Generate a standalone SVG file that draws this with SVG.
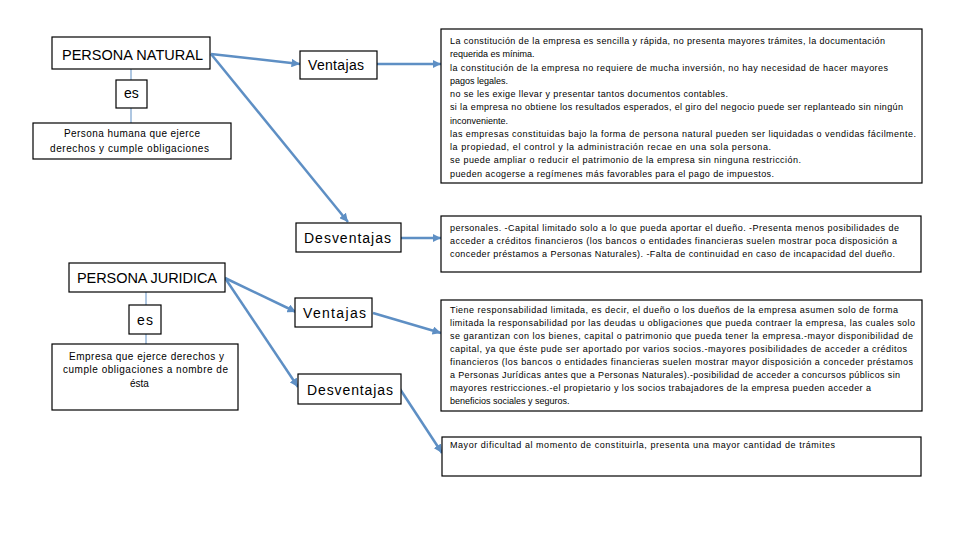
<svg xmlns="http://www.w3.org/2000/svg" width="960" height="540" viewBox="0 0 960 540">
<style>
.box{fill:#fff;stroke:#000;stroke-width:1.2}
.t{font-family:"Liberation Sans",Arial,sans-serif;fill:#000}
.big{font-size:14.5px}
.mid{font-size:14px}
.sm{font-size:10px}
.xs{font-size:9px}
.c{stroke:#5e8fc4;stroke-width:2.5;fill:none}
.v{stroke:#5e8fc4;stroke-width:1;fill:none}
</style>
<defs>
<marker id="arr" viewBox="0 0 10 10" refX="10" refY="5" markerWidth="3.4" markerHeight="3.4" orient="auto" markerUnits="strokeWidth">
<path d="M0,0 L10,5 L0,10 z" fill="#5e8fc4"/>
</marker>
</defs>
<rect width="960" height="540" fill="#fff"/>

<g id="connectors">
<line class="v" x1="131" y1="69" x2="131" y2="80"/>
<line class="v" x1="131" y1="108" x2="131" y2="123"/>
<line class="v" x1="146" y1="292" x2="146" y2="305"/>
<line class="v" x1="146" y1="334" x2="146" y2="344"/>
<line class="c" x1="211" y1="54" x2="300" y2="64" marker-end="url(#arr)"/>
<line class="c" x1="211" y1="54" x2="348" y2="222" marker-end="url(#arr)"/>
<line class="c" x1="377" y1="64" x2="441" y2="64" marker-end="url(#arr)"/>
<line class="c" x1="401" y1="238" x2="441" y2="238" marker-end="url(#arr)"/>
<line class="c" x1="225" y1="278" x2="296" y2="312" marker-end="url(#arr)"/>
<line class="c" x1="225" y1="278" x2="298" y2="387" marker-end="url(#arr)"/>
<line class="c" x1="373" y1="313" x2="441" y2="333" marker-end="url(#arr)"/>
<line class="c" x1="400" y1="389" x2="442" y2="453" marker-end="url(#arr)"/>
</g>

<g id="persona-natural">
<rect class="box" x="52" y="37" width="158" height="32"/>
<text class="t big" x="62" y="60" textLength="141" lengthAdjust="spacing">PERSONA NATURAL</text>
</g>
<g id="es-natural">
<rect class="box" x="116" y="80" width="31" height="28"/>
<text class="t mid" x="124" y="98">es</text>
</g>
<g id="def-natural">
<rect class="box" x="33" y="123" width="198" height="36"/>
<text class="t sm" x="64" y="137" textLength="136" lengthAdjust="spacing">Persona humana que ejerce</text>
<text class="t sm" x="50" y="152" textLength="159" lengthAdjust="spacing">derechos y cumple obligaciones</text>
</g>
<g id="ventajas-natural">
<rect class="box" x="300" y="51" width="77" height="28"/>
<text class="t mid" x="308" y="70" textLength="56" lengthAdjust="spacing">Ventajas</text>
</g>
<g id="desventajas-natural">
<rect class="box" x="296" y="223" width="105" height="29"/>
<text class="t mid" x="304" y="243" textLength="87" lengthAdjust="spacing">Desventajas</text>
</g>

<g id="persona-juridica">
<rect class="box" x="69" y="263" width="156" height="29"/>
<text class="t big" x="77" y="283" textLength="140" lengthAdjust="spacing">PERSONA JURIDICA</text>
</g>
<g id="es-juridica">
<rect class="box" x="129" y="305" width="32" height="29"/>
<text class="t mid" x="137" y="325" textLength="16" lengthAdjust="spacing">es</text>
</g>
<g id="def-juridica">
<rect class="box" x="52" y="344" width="186" height="66"/>
<text class="t sm" x="69" y="360" textLength="155" lengthAdjust="spacing">Empresa que ejerce derechos y</text>
<text class="t sm" x="63" y="373" textLength="165" lengthAdjust="spacing">cumple obligaciones a nombre de</text>
<text class="t sm" x="130" y="387">ésta</text>
</g>
<g id="ventajas-juridica">
<rect class="box" x="295" y="298" width="77" height="29"/>
<text class="t mid" x="303" y="318" textLength="63" lengthAdjust="spacing">Ventajas</text>
</g>
<g id="desventajas-juridica">
<rect class="box" x="298" y="374" width="103" height="30"/>
<text class="t mid" x="307" y="395" textLength="86" lengthAdjust="spacing">Desventajas</text>
</g>

<g id="ventajas-natural-texto">
<rect class="box" x="441" y="29" width="481" height="154"/>
<text class="t xs" x="450" y="44" textLength="435" lengthAdjust="spacing">La constitución  de la empresa es sencilla y rápida, no presenta mayores trámites, la documentación</text>
<text class="t xs" x="450" y="57.3">requerida es mínima.</text>
<text class="t xs" x="450" y="70.5" textLength="438" lengthAdjust="spacing">la constitución de la empresa no requiere de mucha inversión, no hay necesidad de hacer mayores</text>
<text class="t xs" x="450" y="83.8">pagos legales.</text>
<text class="t xs" x="450" y="97" textLength="278" lengthAdjust="spacing">no se les exige llevar y presentar tantos documentos contables.</text>
<text class="t xs" x="450" y="110.3" textLength="453" lengthAdjust="spacing">si la empresa no obtiene los resultados esperados, el giro del negocio puede ser replanteado sin ningún</text>
<text class="t xs" x="450" y="123.5">inconveniente.</text>
<text class="t xs" x="450" y="136.8" textLength="466" lengthAdjust="spacing">las empresas constituidas bajo la forma de persona natural pueden ser liquidadas o vendidas fácilmente.</text>
<text class="t xs" x="450" y="150" textLength="321" lengthAdjust="spacing">la propiedad, el control y la administración recae en una sola persona.</text>
<text class="t xs" x="450" y="163.3" textLength="351" lengthAdjust="spacing">se puede ampliar o reducir el patrimonio de la empresa sin ninguna restricción.</text>
<text class="t xs" x="450" y="176.5" textLength="324" lengthAdjust="spacing">pueden acogerse a regímenes más favorables para el pago de impuestos.</text>
</g>

<g id="desventajas-natural-texto">
<rect class="box" x="441" y="216" width="480" height="56"/>
<text class="t xs" x="450" y="231" textLength="449" lengthAdjust="spacing">personales. -Capital limitado solo a lo que pueda aportar el dueño. -Presenta menos posibilidades de</text>
<text class="t xs" x="450" y="244" textLength="447" lengthAdjust="spacing">acceder a créditos financieros (los bancos o entidades financieras suelen mostrar poca disposición a</text>
<text class="t xs" x="450" y="257" textLength="445" lengthAdjust="spacing">conceder préstamos a Personas Naturales). -Falta de continuidad en caso de incapacidad del dueño.</text>
</g>

<g id="ventajas-juridica-texto">
<rect class="box" x="441" y="300" width="481" height="111"/>
<text class="t xs" x="450" y="313" textLength="448" lengthAdjust="spacing">Tiene responsabilidad limitada, es decir, el dueño o los dueños de la empresa asumen solo de forma</text>
<text class="t xs" x="450" y="326" textLength="465" lengthAdjust="spacing">limitada la responsabilidad por las deudas u obligaciones que pueda contraer la empresa, las cuales solo</text>
<text class="t xs" x="450" y="339" textLength="463" lengthAdjust="spacing">se garantizan con los bienes, capital o patrimonio que pueda tener la empresa.-mayor disponibilidad de</text>
<text class="t xs" x="450" y="352" textLength="457" lengthAdjust="spacing">capital, ya que éste pude ser aportado por varios socios.-mayores posibilidades de acceder a créditos</text>
<text class="t xs" x="450" y="365" textLength="463" lengthAdjust="spacing">financieros (los bancos o entidades financieras suelen mostrar mayor disposición a conceder préstamos</text>
<text class="t xs" x="450" y="378" textLength="450" lengthAdjust="spacing">a Personas Jurídicas antes que a Personas Naturales).-posibilidad de acceder a concursos públicos sin</text>
<text class="t xs" x="450" y="391" textLength="421" lengthAdjust="spacing">mayores restricciones.-el propietario y los socios trabajadores de la empresa pueden acceder a</text>
<text class="t xs" x="450" y="404">beneficios sociales y seguros.</text>
</g>

<g id="desventajas-juridica-texto">
<rect class="box" x="442" y="437" width="479" height="39"/>
<text class="t xs" x="450" y="448" textLength="385" lengthAdjust="spacing">Mayor dificultad al momento de constituirla, presenta una mayor cantidad de trámites</text>
</g>
</svg>
